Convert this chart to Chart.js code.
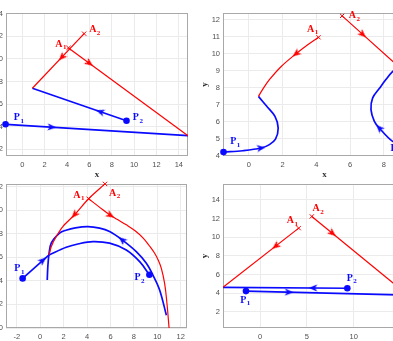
<!DOCTYPE html>
<html>
<head>
<meta charset="utf-8">
<script src="https://cdn.jsdelivr.net/npm/chart.js@4.4.1/dist/chart.umd.min.js"></script>
<style>
  html, body { margin: 0; padding: 0; background: #fff; width: 393px; height: 341px; overflow: hidden; position: relative; }
  canvas { position: absolute; }
</style>
</head>
<body>
<canvas id="c1"></canvas>
<canvas id="c2"></canvas>
<canvas id="c3"></canvas>
<canvas id="c4"></canvas>
<script>
// --- start points (same in every panel) ---
const A1 = [4.13, 10.97];
const A2 = [5.53, 12.23];
const P1 = [-1.5, 4.21];
const P2 = [9.32, 4.52];

// --- panel 1 (top left) ---
const p1RedA2 = [A2, [0.9, 7.4]];
const p1RedA1 = [A1, [14.82, 3.2]];
const p1BlueP2 = [P2, [0.9, 7.4]];
const p1BlueP1 = [P1, [14.82, 3.2]];
const p1ArrowAt = [[3.54, 10.15], [6.0, 9.61], [6.97, 5.32], [2.64, 3.95]];

// --- panel 2 (top right) ---
const p2RedA1 = [A1, [3.45, 10.5], [2.8, 10.0], [1.92, 9.25], [1.22, 8.47], [0.83, 7.92], [0.57, 7.49]];
const p2BlueP1 = [P1, [-0.36, 4.29], [0.73, 4.45], [1.22, 4.65], [1.58, 4.97], [1.74, 5.63], [1.55, 6.31], [1.05, 6.92], [0.57, 7.49]];
const p2RedA2 = [A2, [6.75, 11.14], [8.9, 9.22]];
const p2BlueP2 = [P2, [8.52, 4.84], [7.73, 5.63], [7.44, 6.02], [7.24, 6.71], [7.34, 7.4], [7.73, 7.95], [8.1, 8.45], [8.53, 8.96], [8.9, 9.22]];
const p2ArrowAt = [[2.8, 10.0], [0.73, 4.45], [6.75, 11.14], [7.73, 5.63]];

// --- panel 3 (bottom left) ---
const p3RedA2 = [A2, A1, [2.93, 9.61], [1.93, 8.61], [1.37, 7.76], [0.94, 6.9], [0.76, 6.2]];
const p3RedA1 = [A1, [5.0, 10.3], [5.92, 9.61], [6.6, 9.2], [7.35, 8.76], [8.1, 8.25], [8.77, 7.65], [9.3, 7.0],
                 [9.77, 6.34], [10.1, 5.7], [10.34, 5.06], [10.62, 3.78], [10.82, 2.08], [11.0, 0.0]];
const p3BlueP1 = [P1, [0.76, 6.2]];
const p3BlueLower = [[0.76, 6.2], [2.22, 6.85], [3.3, 7.15], [4.5, 7.33], [5.92, 7.2], [7.35, 6.62], [8.49, 5.63], P2];
const p3BlueUpper = [[10.77, 1.08], [10.2, 3.21], [9.62, 4.49], [9.06, 5.49], [8.2, 6.48], [6.99, 7.48], [5.92, 8.18], [5.07, 8.47], [4.07, 8.6], [3.0, 8.5], [2.2, 8.3], [1.65, 8.05], [0.94, 7.2], [0.74, 6.2], [0.65, 5.2], [0.6, 4.07]];
const p3ArrowAt = [[2.93, 9.61], [6.0, 9.56], [0.22, 5.74], [6.99, 7.48]];

// --- panel 4 (bottom right) ---
const p4RedA1 = [A1, [-3.95, 4.62]];
const p4RedA2 = [A2, [15.8, 3.77]];
const p4BlueP2 = [P2, [-3.95, 4.62]];
const p4BlueP1 = [P1, [15.8, 3.77]];
const p4ArrowAt = [[1.68, 9.04], [7.73, 10.42], [5.66, 4.55], [3.1, 4.09]];

// axis ranges and tick steps
const p1X = [-1.46, 14.82, 2], p1Y = [1.4, 14.06, 2];
const p2X = [-1.53, 10.5, 2],  p2Y = [3.98, 12.4, 1];
const p3X = [-2.92, 12.53, 2], p3Y = [0, 12.22, 2];
const p4X = [-3.95, 16.97, 5], p4Y = [0.25, 15.71, 2];

const RED = 'rgb(255,0,0)';
const BLUE = 'rgb(10,10,255)';
const Y_W = 28, X_H = 26;

// little arrow head, pointing up, used as point style
function arrowHead(color) {
  const c = document.createElement('canvas');
  c.width = 8; c.height = 9;
  const g = c.getContext('2d');
  g.fillStyle = color;
  g.beginPath();
  g.moveTo(4, 0.3);
  g.lineTo(7.6, 8.7);
  g.lineTo(4, 6.4);
  g.lineTo(0.4, 8.7);
  g.closePath();
  g.fill();
  return c;
}
const redHead = arrowHead(RED);
const blueHead = arrowHead(BLUE);

const xy = pts => pts.map(p => ({ x: p[0], y: p[1] }));

function curve(pts, color, width, tension) {
  return {
    data: xy(pts), showLine: true, borderColor: color, backgroundColor: color,
    borderWidth: width, pointRadius: 0, pointHoverRadius: 0, tension: tension || 0
  };
}

// rotate an arrow head along the curve it sits on
function headAngle(chart, pts, at) {
  const sx = chart.scales.x, sy = chart.scales.y;
  const px = pts.map(p => [sx.getPixelForValue(p[0]), sy.getPixelForValue(p[1])]);
  const ax = sx.getPixelForValue(at[0]), ay = sy.getPixelForValue(at[1]);
  let best = 0, bd = Infinity;
  for (let i = 0; i < px.length - 1; i++) {
    const [x1, y1] = px[i], [x2, y2] = px[i + 1];
    const vx = x2 - x1, vy = y2 - y1;
    let t = ((ax - x1) * vx + (ay - y1) * vy) / (vx * vx + vy * vy || 1);
    t = Math.max(0, Math.min(1, t));
    const d = Math.hypot(x1 + t * vx - ax, y1 + t * vy - ay);
    if (d < bd) { bd = d; best = i; }
  }
  const dx = px[best + 1][0] - px[best][0], dy = px[best + 1][1] - px[best][1];
  return Math.atan2(dx, -dy) * 180 / Math.PI;
}

function heads(curves, ats, colors) {
  return ats.map((at, i) => ({
    data: xy([at]), showLine: false, clip: false,
    pointStyle: colors[i] === RED ? redHead : blueHead,
    pointRadius: 4, pointHoverRadius: 4,
    pointRotation: ctx => headAngle(ctx.chart, curves[i], at)
  }));
}

function markers(A, P) {
  return [
    { data: xy(A), showLine: false, clip: false, pointStyle: 'crossRot', pointRadius: 3,
      borderColor: RED, backgroundColor: RED, pointBorderWidth: 1 },
    { data: xy(P), showLine: false, clip: false, pointStyle: 'circle', pointRadius: 3.3,
      borderColor: BLUE, backgroundColor: BLUE, pointBorderWidth: 0 }
  ];
}

const framePlugin = {
  id: 'frame',
  beforeDatasetsDraw(chart) {
    const { ctx, chartArea: a } = chart;
    ctx.save();
    ctx.strokeStyle = '#a8a8a8';
    ctx.lineWidth = 1;
    ctx.strokeRect(Math.round(a.left) + 0.5, Math.round(a.top) + 0.5,
      Math.round(a.right - a.left) - 1, Math.round(a.bottom - a.top) - 1);
    ctx.restore();
  }
};

const tagPlugin = {
  id: 'tags',
  afterDatasetsDraw(chart, args, opts) {
    const ctx = chart.ctx, sx = chart.scales.x, sy = chart.scales.y;
    ctx.save();
    ctx.textBaseline = 'alphabetic';
    ctx.textAlign = 'left';
    for (const t of opts.items) {
      const x = sx.getPixelForValue(t.pt[0]) + t.dx;
      const y = sy.getPixelForValue(t.pt[1]) + t.dy;
      ctx.fillStyle = t.color;
      ctx.font = 'bold 10px "Liberation Serif", "Times New Roman", serif';
      ctx.fillText(t.text, x, y);
      const w = ctx.measureText(t.text).width;
      ctx.font = 'bold 7px "Liberation Serif", "Times New Roman", serif';
      ctx.fillText(t.sub, x + w + 0.5, y + 2.6);
    }
    ctx.restore();
  }
};

function axis(range, pos, title) {
  const horiz = pos === 'bottom';
  return {
    type: 'linear', position: pos, min: range[0], max: range[1],
    grid: { color: '#ebebeb', lineWidth: 1, drawTicks: false },
    border: { display: false },
    ticks: {
      stepSize: range[2], includeBounds: false, autoSkip: false, maxRotation: 0,
      padding: horiz ? 4 : 3, color: '#505050',
      font: { family: '"Liberation Sans", Arial, sans-serif', size: 7.5 }
    },
    title: {
      display: true, text: title, color: '#303030',
      font: { family: '"Liberation Serif", "Times New Roman", serif', size: 9, weight: 'bold' },
      padding: horiz ? { top: 0, bottom: 2 } : { top: 4, bottom: 0 }
    },
    afterFit: s => { if (horiz) s.height = X_H; else s.width = Y_W; }
  };
}

function makeChart(id, box, xr, yr, datasets, tags) {
  const el = document.getElementById(id);
  el.width = box.w; el.height = box.h;
  el.style.left = box.left + 'px'; el.style.top = box.top + 'px';
  return new Chart(el, {
    type: 'scatter',
    data: { datasets },
    options: {
      responsive: false, animation: false, devicePixelRatio: 1, events: [],
      layout: { padding: { top: 10, right: 10, left: 0, bottom: 0 } },
      scales: { x: axis(xr, 'bottom', 'x'), y: axis(yr, 'left', 'y') },
      plugins: { legend: { display: false }, tooltip: { enabled: false }, tags: { items: tags } }
    },
    plugins: [framePlugin, tagPlugin]
  });
}

function tagsFor(off) {
  return [
    { pt: A1, text: 'A', sub: '1', color: RED, dx: off[0][0], dy: off[0][1] },
    { pt: A2, text: 'A', sub: '2', color: RED, dx: off[1][0], dy: off[1][1] },
    { pt: P1, text: 'P', sub: '1', color: BLUE, dx: off[2][0], dy: off[2][1] },
    { pt: P2, text: 'P', sub: '2', color: BLUE, dx: off[3][0], dy: off[3][1] }
  ];
}

const RW = 1.2, BW = 1.7;

makeChart('c1', { left: -22, top: 3, w: 220, h: 179 }, p1X, p1Y, [
  curve(p1RedA2, RED, RW), curve(p1RedA1, RED, RW),
  curve(p1BlueP2, BLUE, BW), curve(p1BlueP1, BLUE, BW),
  ...heads([p1RedA2, p1RedA1, p1BlueP2, p1BlueP1], p1ArrowAt, [RED, RED, BLUE, BLUE]),
  ...markers([A1, A2], [P1, P2])
], tagsFor([[-13.3, -1.2], [5, -1.6], [8.3, -4], [6.3, -0.7]]));

makeChart('c2', { left: 195, top: 3, w: 241, h: 179 }, p2X, p2Y, [
  curve(p2RedA1, RED, RW, 0.35), curve(p2BlueP1, BLUE, BW, 0.35),
  curve(p2RedA2, RED, RW), curve(p2BlueP2, BLUE, BW, 0.35),
  ...heads([p2RedA1, p2BlueP1, p2RedA2, p2BlueP2], p2ArrowAt, [RED, BLUE, RED, BLUE]),
  ...markers([A1, A2], [P1, P2])
], tagsFor([[-11.6, -5.6], [6.6, 2.6], [6.7, -8], [-15.5, 4.2]]));

makeChart('c3', { left: -22, top: 174, w: 219, h: 180 }, p3X, p3Y, [
  curve(p3RedA2, RED, RW, 0.3), curve(p3RedA1, RED, RW, 0.4),
  curve(p3BlueP1, BLUE, BW), curve(p3BlueLower, BLUE, BW, 0.35), curve(p3BlueUpper, BLUE, BW, 0.35),
  ...heads([p3RedA2, p3RedA1, p3BlueP1, p3BlueUpper], p3ArrowAt, [RED, RED, BLUE, BLUE]),
  ...markers([A1, A2], [P1, P2])
], tagsFor([[-15.3, -1], [4, 11.7], [-8.3, -7.3], [-15, 5.3]]));

makeChart('c4', { left: 195, top: 174, w: 234, h: 180 }, p4X, p4Y, [
  curve(p4RedA1, RED, RW), curve(p4RedA2, RED, RW),
  curve(p4BlueP2, BLUE, BW), curve(p4BlueP1, BLUE, BW),
  ...heads([p4RedA1, p4RedA2, p4BlueP2, p4BlueP1], p4ArrowAt, [RED, RED, BLUE, BLUE]),
  ...markers([A1, A2], [P1, P2])
], tagsFor([[-12, -5], [0.7, -5.3], [-5.7, 11.7], [-0.7, -7.6]]));
</script>
</body>
</html>
